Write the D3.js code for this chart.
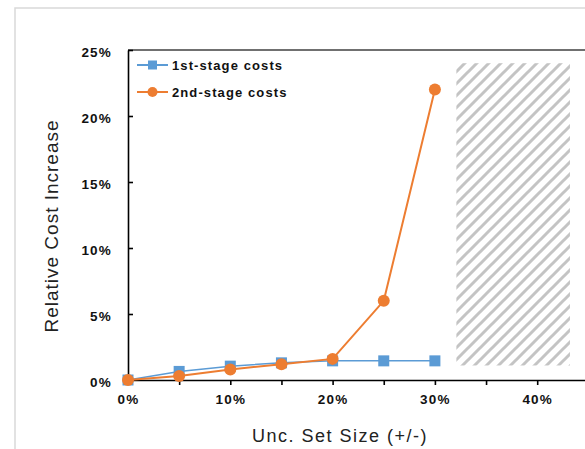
<!DOCTYPE html>
<html>
<head>
<meta charset="utf-8">
<script src="https://cdn.jsdelivr.net/npm/d3@7"></script>
<style>
  html, body { margin: 0; padding: 0; background: #fff; }
  svg { display: block; font-family: "Liberation Sans", Arial, sans-serif; }
</style>
</head>
<body>
<svg id="chart" width="585" height="449"></svg>
<script>
// ---- data ----
const uncSetSize = [0, 5, 10, 15, 20, 25, 30];           // % (x)
const firstStage = [0, 0.65, 1.05, 1.3, 1.45, 1.45, 1.45]; // % (y)
const secondStage = [0, 0.3, 0.8, 1.2, 1.6, 6.0, 22.0];    // % (y)
const seriesNames = ["1st-stage costs", "2nd-stage costs"];
const xTicks = [0, 5, 10, 15, 20, 25, 30, 35, 40];
const xTickLabels = ["0%", "", "10%", "", "20%", "", "30%", "", "40%"];
const yTicks = [0, 5, 10, 15, 20, 25];
const yTickLabels = ["0%", "5%", "10%", "15%", "20%", "25%"];
const infeasibleX = [32.1, 43.2];  // hatched region, x extent (%)
const infeasibleY = [1.1, 24.0];   // hatched region, y extent (%)

const svg = d3.select("#chart");
const W = 585, H = 449;

// outer frame
svg.append("rect").attr("x", 15).attr("y", 8).attr("width", 700).attr("height", 600)
  .attr("fill", "#fff").attr("stroke", "#d9d9d9").attr("stroke-width", 1.5);

const x = d3.scaleLinear().domain([0, 50]).range([128, 639.5]);
const y = d3.scaleLinear().domain([0, 25]).range([380, 50]);

// hatch pattern
const defs = svg.append("defs");
const pat = defs.append("pattern").attr("id", "hatch").attr("patternUnits", "userSpaceOnUse")
  .attr("width", 12).attr("height", 12);
pat.append("path").attr("d", "M-3,3 L3,-3 M0,12 L12,0 M9,15 L15,9")
  .attr("stroke", "#c4c4c4").attr("stroke-width", 3);

svg.append("rect")
  .attr("x", x(infeasibleX[0])).attr("y", y(infeasibleY[1]))
  .attr("width", x(infeasibleX[1]) - x(infeasibleX[0]))
  .attr("height", y(infeasibleY[0]) - y(infeasibleY[1]))
  .attr("fill", "url(#hatch)");

// top frame line of plot area
svg.append("line").attr("x1", x(0)).attr("x2", W).attr("y1", y(25)).attr("y2", y(25))
  .attr("stroke", "#404040").attr("stroke-width", 1.5);

// x axis
const xAxis = svg.append("g").attr("transform", `translate(0,${y(0)})`)
  .call(d3.axisBottom(x).tickValues(xTicks).tickSize(5).tickPadding(9)
    .tickFormat((d, i) => xTickLabels[i]));
xAxis.select(".domain").attr("stroke", "#000").attr("stroke-width", 1.6);
xAxis.selectAll(".tick line").attr("stroke", "#000").attr("stroke-width", 1.6);
xAxis.selectAll(".tick text").attr("font-size", 13.5).attr("font-weight", "bold")
  .attr("fill", "#111").attr("letter-spacing", 1.2).attr("font-family", "Liberation Sans, Arial, sans-serif");

// y axis
const yAxis = svg.append("g").attr("transform", `translate(${x(0)},0)`)
  .call(d3.axisLeft(y).tickValues(yTicks).tickSizeInner(-5).tickSizeOuter(0).tickPadding(16)
    .tickFormat((d, i) => yTickLabels[i]));
yAxis.select(".domain").attr("stroke", "#000").attr("stroke-width", 1.6);
yAxis.selectAll(".tick line").attr("stroke", "#000").attr("stroke-width", 1.6);
yAxis.selectAll(".tick text").attr("font-size", 13.5).attr("font-weight", "bold")
  .attr("fill", "#111").attr("letter-spacing", 1.2).attr("dy", "0.5em")
  .attr("font-family", "Liberation Sans, Arial, sans-serif");

// axis titles
svg.append("text").attr("x", 340).attr("y", 442).attr("text-anchor", "middle")
  .attr("font-size", 18).attr("letter-spacing", 1.5).attr("fill", "#222")
  .text("Unc. Set Size (+/-)");
svg.append("text").attr("transform", "translate(58,226) rotate(-90)").attr("text-anchor", "middle")
  .attr("font-size", 19).attr("letter-spacing", 1).attr("fill", "#222")
  .text("Relative Cost Increase");

const blue = "#5B9BD5", orange = "#ED7D31";
const pts1 = uncSetSize.map((v, i) => [v, firstStage[i]]);
const pts2 = uncSetSize.map((v, i) => [v, secondStage[i]]);
const line = d3.line().x(d => x(d[0])).y(d => y(d[1]));

// series 1
svg.append("path").attr("d", line(pts1)).attr("fill", "none").attr("stroke", blue).attr("stroke-width", 1.5);
svg.selectAll(".sq").data(pts1).enter().append("rect")
  .attr("x", d => x(d[0]) - 5.5).attr("y", d => y(d[1]) - 5.5)
  .attr("width", 11).attr("height", 11).attr("fill", blue);

// series 2
svg.append("path").attr("d", line(pts2)).attr("fill", "none").attr("stroke", orange).attr("stroke-width", 2);
svg.selectAll(".ci").data(pts2).enter().append("circle")
  .attr("cx", d => x(d[0])).attr("cy", d => y(d[1])).attr("r", 6).attr("fill", orange);

// legend
const leg = svg.append("g");
const legY = [65, 92];
[blue, orange].forEach((c, i) => {
  leg.append("line").attr("x1", 137).attr("x2", 168).attr("y1", legY[i]).attr("y2", legY[i])
    .attr("stroke", c).attr("stroke-width", 2);
  if (i === 0) {
    leg.append("rect").attr("x", 148).attr("y", legY[i] - 4.5).attr("width", 9).attr("height", 9).attr("fill", c);
  } else {
    leg.append("circle").attr("cx", 152.5).attr("cy", legY[i]).attr("r", 5).attr("fill", c);
  }
  leg.append("text").attr("x", 172).attr("y", legY[i]).attr("dy", "0.35em")
    .attr("font-size", 13).attr("font-weight", "bold").attr("letter-spacing", 1.1)
    .attr("fill", "#111").text(seriesNames[i]);
});
</script>
</body>
</html>
